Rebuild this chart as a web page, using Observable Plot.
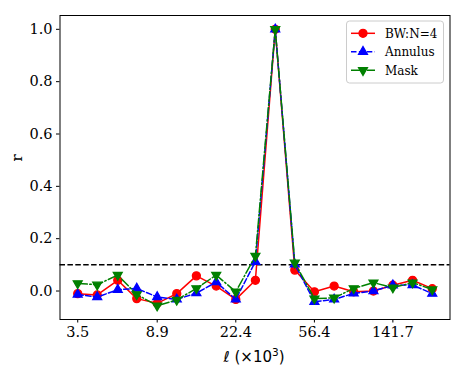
<!DOCTYPE html>
<html><head><meta charset="utf-8">
<script src="https://cdn.jsdelivr.net/npm/d3@7"></script>
<script src="https://cdn.jsdelivr.net/npm/@observablehq/plot@0.6"></script>
<style>body{margin:0;background:#fff;} #chart{width:463px;height:381px;}</style>
</head><body><div id="chart"></div>
<script>
const ell = [3.5,4.4,5.6,7.0,8.9,11.2,14.1,17.8,22.4,28.2,35.6,44.8,56.4,71.1,89.5,112.8,141.7,178.6,225.1];
const bw = [-0.010,-0.015,0.041,-0.029,-0.047,-0.010,0.058,0.019,-0.032,0.041,1.0,0.080,-0.003,0.019,-0.003,0.000,0.022,0.041,0.009];
const annulus = [-0.013,-0.023,0.005,0.010,-0.023,-0.032,-0.008,0.034,-0.032,0.112,1.0,0.102,-0.041,-0.032,-0.009,0.000,0.022,0.023,-0.010];
const mask = [0.029,0.024,0.061,-0.013,-0.056,-0.034,0.010,0.061,-0.003,0.134,1.0,0.108,-0.029,-0.026,0.010,0.032,0.013,0.032,0.006];
const seriesNames = ["BW:N=4","Annulus","Mask"];
const xTicks = [3.5,8.9,22.4,56.4,141.7];
const yTicks = [0,0.2,0.4,0.6,0.8,1.0];
const threshold = 0.1;

// x positioned on a log axis (log10 of ℓ)
const rows = ell.map((x,i)=>({lx:Math.log10(x), bw:bw[i], an:annulus[i], mk:mask[i]}));
const W=463,H=381, mL=59.5, mR=13.5, mT=15, mB=62;
const lx = Math.log10(d3.min(ell)), hx = Math.log10(d3.max(ell));
const xdom = [lx-0.05*(hx-lx), hx+0.05*(hx-lx)];
const all = bw.concat(annulus, mask);
const ymn = d3.min(all), ymx = d3.max(all);
const ydom = [ymn-0.05*(ymx-ymn), ymx+0.05*(ymx-ymn)];
const tickMap = new Map(xTicks.map(t=>[Math.log10(t), t]));

const styles = [
  {key:"bw", color:"red", dash:null, symbol:"circle", r:4, rotate:0},
  {key:"an", color:"blue", dash:"5.5,2.4", symbol:"triangle", r:3.3, rotate:0},
  {key:"mk", color:"green", dash:"9.6,2.4,1.5,2.4", symbol:"triangle", r:3.3, rotate:180}
];
const seriesMarks = styles.flatMap(s=>[
  Plot.line(rows,{x:"lx",y:s.key,stroke:s.color,strokeWidth:1.5,strokeDasharray:s.dash}),
  Plot.dot(rows,{x:"lx",y:s.key,fill:s.color,stroke:s.color,strokeWidth:1.3,r:s.r,symbol:s.symbol,rotate:s.rotate})
]);

const plot = Plot.plot({
  width:W, height:H, marginLeft:mL, marginRight:mR, marginTop:mT, marginBottom:mB,
  style:{fontFamily:"DejaVu Serif", fontSize:"14.5px", background:"#fff", color:"black", overflow:"visible"},
  x:{type:"linear", domain:xdom},
  y:{domain:ydom},
  marks:[
    Plot.ruleY([threshold], {stroke:"black", strokeWidth:1.5, strokeDasharray:"5.5,2.4"}),
    ...seriesMarks,
    Plot.frame({stroke:"black", strokeWidth:1}),
    Plot.axisX([...tickMap.keys()], {tickFormat:d=>tickMap.get(d).toFixed(1), tickSize:3.5, tickPadding:4, label:null}),
    Plot.axisY(yTicks, {tickFormat:d=>d.toFixed(1), tickSize:3.5, tickPadding:4, label:null})
  ]
});
document.getElementById("chart").appendChild(plot);

const svg = d3.select(plot);
// axis labels
const xl = svg.append("text").attr("x",254).attr("y",362).attr("text-anchor","middle")
  .attr("font-family","DejaVu Sans").attr("font-size","15px").attr("fill","black");
xl.append("tspan").attr("font-style","italic").text("ℓ");
xl.append("tspan").text(" (×10");
xl.append("tspan").attr("font-size","10.5px").attr("dy","-6").text("3");
xl.append("tspan").attr("dy","6").text(")");
svg.append("text").attr("transform","translate(22,158) rotate(-90)").attr("text-anchor","middle")
  .attr("font-family","DejaVu Serif").attr("font-size","15px").attr("fill","black").text("r");

// legend
const lg = svg.append("g").attr("text-anchor","start");
lg.append("rect").attr("x",346.5).attr("y",21).attr("width",97).attr("height",62).attr("rx",3)
  .attr("fill","white").attr("fill-opacity",0.8).attr("stroke","#cccccc").attr("stroke-width",1);
const ys = [33.3,51.7,70.3];
styles.forEach((s,i)=>{
  const y = ys[i];
  lg.append("line").attr("x1",351).attr("x2",375).attr("y1",y).attr("y2",y)
    .attr("stroke",s.color).attr("stroke-width",1.5).attr("stroke-dasharray",s.dash);
  const sym = s.symbol==="circle" ? d3.symbolCircle : d3.symbolTriangle;
  lg.append("path").attr("d",d3.symbol(sym, Math.PI*s.r*s.r)())
    .attr("transform",`translate(363,${y}) rotate(${s.rotate})`)
    .attr("fill",s.color).attr("stroke",s.color).attr("stroke-width",1.3);
  lg.append("text").attr("x",385).attr("y",y).attr("dy","0.35em").attr("text-anchor","start")
    .attr("font-family","DejaVu Serif").attr("font-size","12px").attr("fill","black").text(seriesNames[i]);
});
</script></body></html>
